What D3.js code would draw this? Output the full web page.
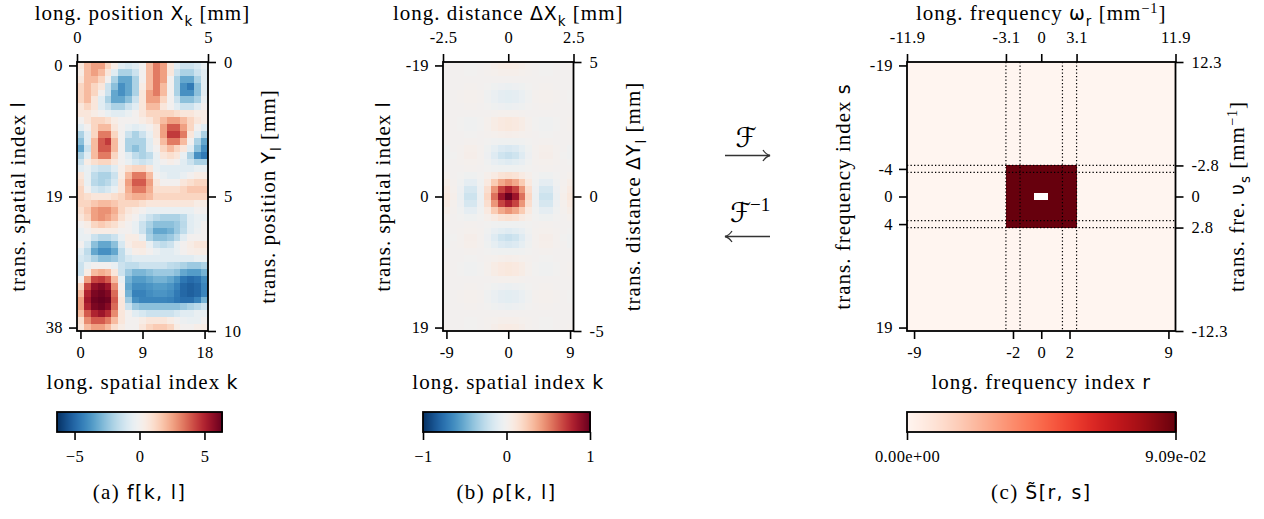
<!DOCTYPE html>
<html>
<head>
<meta charset="utf-8">
<script src="https://cdn.jsdelivr.net/npm/d3@7"></script>
<style>
  html, body { margin: 0; padding: 0; background: #fff; }
  svg { display: block; }
  text { font-family: "Liberation Serif", "DejaVu Serif", serif; }
</style>
</head>
<body>
<script>
// ---------- data ----------
// f[k, l] : rows l = 0..38, columns k = 0..18
const fValues = [
  [ 0.7, 2.0, 2.6, 2.6, 1.3, 0.4,-0.7,-1.0,-0.7, 0.0, 2.0, 3.3, 2.6, 0.7,-0.7,-1.3,-1.3,-1.0,-0.4],
  [ 0.4, 2.0, 2.6, 2.0, 0.7,-0.7,-2.0,-2.0,-1.3, 0.0, 2.0, 3.3, 2.6, 0.7,-1.3,-2.0,-2.0,-1.3,-0.7],
  [ 0.7, 2.0, 2.0, 1.3, 0.0,-2.0,-3.3,-3.3,-2.0, 0.0, 2.0, 3.3, 2.6, 0.0,-2.0,-3.3,-3.3,-2.0,-0.7],
  [ 1.3, 2.0, 1.3, 0.7,-1.3,-2.6,-3.9,-3.3,-2.0, 0.4, 2.0, 3.3, 2.0, 0.0,-2.0,-3.9,-4.5,-2.6,-0.7],
  [ 1.3, 2.0, 1.3, 0.0,-1.3,-3.3,-3.9,-3.3,-2.0, 0.7, 2.6, 3.3, 2.0, 0.0,-2.0,-3.9,-3.9,-2.6,-0.7],
  [ 1.3, 2.0, 0.7,-0.7,-2.0,-3.3,-3.3,-2.6,-1.3, 0.7, 2.6, 2.6, 1.3, 0.0,-1.3,-2.6,-2.6,-2.0,-0.4],
  [ 0.7, 1.3, 0.7,-0.7,-1.3,-2.0,-2.0,-1.3,-0.7, 0.7, 2.0, 2.0, 0.7, 0.0,-0.7,-1.3,-1.3,-0.7, 0.0],
  [ 0.7, 0.7, 0.4, 0.0,-0.4,-0.7,-0.7,-0.4, 0.0, 0.7, 1.3, 1.3, 1.3, 1.3, 1.0, 0.7, 0.7, 0.4, 0.4],
  [ 0.0, 0.7, 1.3, 1.3, 1.0, 0.4, 0.0, 0.0, 0.0, 0.4, 0.7, 1.3, 2.0, 2.6, 2.6, 2.0, 1.3, 0.7, 0.4],
  [-0.7, 0.0, 1.3, 2.0, 2.0, 0.7, 0.0,-0.4,-0.7,-0.4, 0.0, 0.7, 2.6, 3.9, 3.9, 2.6, 1.3, 0.0,-0.7],
  [-2.0,-0.7, 1.3, 3.3, 3.3, 1.3, 0.0,-1.3,-2.0,-1.3,-0.4, 0.7, 2.6, 4.5, 4.5, 3.3, 0.7,-0.7,-2.0],
  [-2.6,-0.7, 2.0, 3.9, 4.5, 2.0, 0.0,-2.0,-2.0,-2.0,-0.7, 0.4, 2.0, 3.3, 3.3, 2.0, 0.0,-2.0,-3.3],
  [-3.3,-1.3, 2.0, 3.9, 3.9, 2.0, 0.0,-2.0,-2.6,-2.0,-0.7, 0.0, 1.3, 2.0, 1.3, 0.7,-0.7,-2.6,-3.9],
  [-2.0,-0.7, 2.0, 3.3, 3.3, 1.3, 0.0,-0.7,-1.6,-2.0,-1.6,-0.4, 0.7, 1.0, 0.7,-0.4,-2.0,-3.9,-4.5],
  [-1.3, 0.4, 1.0, 1.3, 1.3, 0.7, 0.0,-0.4,-1.0,-1.3,-1.0,-0.4, 0.0, 0.3, 0.0,-0.7,-1.3,-2.0,-2.0],
  [-0.7,-0.4,-1.0,-1.3,-1.3,-0.7, 0.3, 1.0, 1.3, 1.3, 0.7,-0.4,-0.7,-0.7,-0.7,-0.7,-0.7,-0.4,-0.4],
  [ 0.7,-0.4,-1.6,-2.0,-2.0,-1.3, 0.4, 2.0, 3.3, 3.3, 2.0, 0.0,-0.4,-0.7,-0.7,-0.4, 0.0, 0.4, 0.4],
  [ 1.0,-0.4,-1.7,-2.0,-1.7,-1.0, 0.7, 2.6, 3.9, 3.9, 2.6, 0.7, 0.0, 0.0, 0.0, 0.7, 1.0, 1.3, 1.3],
  [ 1.3, 0.0,-1.0,-1.3,-1.0,-0.4, 0.7, 2.3, 3.3, 3.3, 2.3, 1.0, 1.0, 1.0, 1.0, 1.3, 1.7, 1.7, 1.7],
  [ 1.3, 1.0, 0.7, 0.7, 0.7, 1.0, 1.3, 2.0, 2.3, 2.3, 2.0, 1.3, 1.3, 1.3, 1.3, 1.3, 1.3, 1.3, 1.3],
  [ 1.3, 1.3, 1.7, 2.0, 2.0, 1.7, 1.3, 1.3, 1.3, 1.0, 0.7, 0.7, 0.7, 0.7, 0.7, 0.7, 0.7, 0.4, 0.4],
  [ 1.0, 1.6, 2.6, 2.9, 2.9, 2.3, 1.3, 0.7, 0.4, 0.0,-0.4,-0.4,-0.4,-0.4,-0.4,-0.4,-0.4, 0.0, 0.0],
  [ 0.7, 1.3, 2.6, 2.9, 2.6, 2.0, 1.0, 0.4, 0.0,-0.7,-1.3,-1.7,-2.0,-2.0,-2.0,-1.6,-0.7,-0.4,-0.4],
  [ 0.0, 0.4, 1.3, 1.6, 1.3, 1.0, 0.4, 0.0,-0.4,-1.3,-2.0,-2.6,-2.6,-2.6,-2.3,-1.7,-0.7,-0.4, 0.0],
  [-0.4, 0.0, 0.4, 0.4, 0.4, 0.4, 0.0, 0.0,-0.4,-1.3,-2.3,-3.3,-3.3,-3.0,-2.3,-1.6,-0.7,-0.3, 0.0],
  [-0.4,-0.4,-1.3,-1.7,-1.7,-1.3,-0.4, 0.4, 0.4,-0.4,-2.0,-2.6,-2.6,-2.3,-1.7,-0.7, 0.0, 0.0, 0.0],
  [ 0.0,-1.0,-2.6,-3.3,-3.3,-2.6,-1.0, 0.3, 0.7, 0.7,-0.4,-1.3,-1.6,-1.3,-0.4, 0.0, 0.4, 0.7, 0.7],
  [-0.7,-1.6,-3.3,-3.9,-3.9,-3.3,-1.6,-0.4, 0.3, 0.4, 0.0,-0.4,-0.7,-0.7,-0.4, 0.0, 0.3, 0.4, 0.4],
  [-1.0,-1.3,-2.0,-2.6,-2.6,-2.3,-1.6,-1.0,-0.7,-0.7,-0.7,-0.7,-0.7,-0.7,-0.7,-0.7,-0.7,-0.4,-0.4],
  [-1.3,-0.4, 0.0, 0.0, 0.0,-0.4,-1.3,-1.6,-1.6,-1.3,-1.3,-1.3,-1.3,-1.6,-1.7,-2.0,-2.3,-2.3,-2.0],
  [-1.3, 0.4, 2.0, 2.3, 2.0, 0.7,-1.3,-2.3,-2.9,-2.9,-2.6,-2.3,-2.3,-2.3,-2.6,-3.3,-3.6,-3.6,-3.0],
  [ 0.0, 2.6, 4.3, 4.5, 3.9, 2.0,-0.4,-3.0,-3.6,-3.6,-3.3,-3.0,-3.0,-3.3,-3.8,-4.6,-4.9,-4.7,-4.0],
  [ 1.3, 4.3, 5.6, 5.9, 5.4, 3.0, 0.0,-3.3,-4.0,-4.0,-3.8,-3.6,-3.6,-3.8,-4.3,-5.0,-5.2,-5.0,-4.2],
  [ 2.0, 5.0, 6.0, 6.2, 5.9, 3.6, 0.4,-3.0,-4.3,-4.3,-4.0,-3.8,-3.8,-4.0,-4.5,-5.0,-5.2,-5.0,-4.2],
  [ 2.6, 5.3, 6.2, 6.35,6.2, 3.9, 0.7,-2.3,-3.9,-4.2,-4.2,-4.2,-4.2,-4.3,-4.6,-4.8,-4.8,-4.3,-3.0],
  [ 2.6, 5.0, 6.0, 6.2, 5.8, 3.6, 0.7,-1.3,-2.3,-2.6,-2.6,-2.6,-2.6,-2.6,-2.6,-2.3,-2.0,-1.7,-1.3],
  [ 2.0, 3.9, 5.0, 5.4, 4.8, 3.0, 0.7, 0.0,-0.7,-1.0,-1.3,-1.3,-1.3,-1.3,-1.0,-0.7,-0.7,-0.4,-0.4],
  [ 1.0, 3.0, 3.9, 3.9, 3.3, 2.0, 0.7, 0.0, 0.0, 0.4, 0.7, 0.7, 0.7, 0.4, 0.0,-0.3,-0.4,-0.4, 0.0],
  [ 0.7, 2.0, 2.6, 2.6, 2.0, 1.0, 0.4, 0.0, 0.0, 0.7, 1.3, 1.6, 1.6, 1.3, 0.4, 0.0, 0.0, 0.3, 0.4]
];

// rho[k, l] in hundredths : rows l = -19..19, columns k = -9..9
const rhoValues = [
  [ 1,0,0,-1,-1,0,1,4,6,7,6,4,1,0,-1,-1,0,0,1],
  [ 0,0,0,-1,-1,0,1,2,3,3,3,2,1,0,-1,-1,0,0,0],
  [ 0,0,0,0,0,0,0,0,0,0,0,0,0,0,0,0,0,0,0],
  [ 0,0,0,1,1,0,-1,-3,-4,-5,-4,-3,-1,0,1,1,0,0,0],
  [-1,0,1,2,2,1,-2,-6,-9,-10,-9,-6,-2,1,2,2,1,0,-1],
  [-1,0,1,2,2,1,-2,-6,-9,-10,-9,-6,-2,1,2,2,1,0,-1],
  [ 0,0,0,1,1,0,-1,-3,-4,-5,-4,-3,-1,0,1,1,0,0,0],
  [ 0,0,0,0,0,0,0,1,2,2,2,1,0,0,0,0,0,0,0],
  [ 1,0,-1,-2,-2,-1,2,6,9,10,9,6,2,-1,-2,-2,-1,0,1],
  [ 1,0,-1,-2,-2,-1,2,6,9,10,9,6,2,-1,-2,-2,-1,0,1],
  [ 0,0,0,-1,-1,0,1,2,3,4,3,2,1,0,-1,-1,0,0,0],
  [ 0,0,0,1,1,0,-1,-2,-3,-3,-3,-2,-1,0,1,1,0,0,0],
  [-2,0,1,3,3,1,-3,-8,-13,-15,-13,-8,-3,1,3,3,1,0,-2],
  [-2,-1,1,4,4,1,-4,-12,-19,-22,-19,-12,-4,1,4,4,1,-1,-2],
  [-1,0,1,2,2,1,-2,-7,-10,-12,-10,-7,-2,1,2,2,1,0,-1],
  [ 0,0,0,1,1,0,-1,-2,-3,-3,-3,-2,-1,0,1,1,0,0,0],
  [ 2,0,-1,-3,-3,-1,3,8,13,15,13,8,3,-1,-3,-3,-1,0,2],
  [ 5,1,-2,-9,-9,-2,9,25,38,45,38,25,9,-2,-9,-9,-2,1,5],
  [ 8,2,-4,-16,-16,-4,16,44,68,80,68,44,16,-4,-16,-16,-4,2,8],
  [10,3,-5,-20,-20,-5,20,55,85,100,85,55,20,-5,-20,-20,-5,3,10],
  [ 8,2,-4,-16,-16,-4,16,44,68,80,68,44,16,-4,-16,-16,-4,2,8],
  [ 5,1,-2,-9,-9,-2,9,25,38,45,38,25,9,-2,-9,-9,-2,1,5],
  [ 2,0,-1,-3,-3,-1,3,8,13,15,13,8,3,-1,-3,-3,-1,0,2],
  [ 0,0,0,1,1,0,-1,-2,-3,-3,-3,-2,-1,0,1,1,0,0,0],
  [-1,0,1,2,2,1,-2,-7,-10,-12,-10,-7,-2,1,2,2,1,0,-1],
  [-2,-1,1,4,4,1,-4,-12,-19,-22,-19,-12,-4,1,4,4,1,-1,-2],
  [-2,0,1,3,3,1,-3,-8,-13,-15,-13,-8,-3,1,3,3,1,0,-2],
  [ 0,0,0,1,1,0,-1,-2,-3,-3,-3,-2,-1,0,1,1,0,0,0],
  [ 0,0,0,-1,-1,0,1,2,3,4,3,2,1,0,-1,-1,0,0,0],
  [ 1,0,-1,-2,-2,-1,2,6,9,10,9,6,2,-1,-2,-2,-1,0,1],
  [ 1,0,-1,-2,-2,-1,2,6,9,10,9,6,2,-1,-2,-2,-1,0,1],
  [ 0,0,0,0,0,0,0,1,2,2,2,1,0,0,0,0,0,0,0],
  [ 0,0,0,1,1,0,-1,-3,-4,-5,-4,-3,-1,0,1,1,0,0,0],
  [-1,0,1,2,2,1,-2,-6,-9,-10,-9,-6,-2,1,2,2,1,0,-1],
  [-1,0,1,2,2,1,-2,-6,-9,-10,-9,-6,-2,1,2,2,1,0,-1],
  [ 0,0,0,1,1,0,-1,-3,-4,-5,-4,-3,-1,0,1,1,0,0,0],
  [ 0,0,0,0,0,0,0,0,0,0,0,0,0,0,0,0,0,0,0],
  [ 0,0,0,-1,-1,0,1,2,3,3,3,2,1,0,-1,-1,0,0,0],
  [ 1,0,0,-1,-1,0,1,4,6,7,6,4,1,0,-1,-1,0,0,1]
];

// S~[r, s] : rows s = -19..19, columns r = -9..9 (null = masked cell)
const P = 9.09e-2;
const spectrumValues = [
  [0,0,0,0,0,0,0,0,0,0,0,0,0,0,0,0,0,0,0],
  [0,0,0,0,0,0,0,0,0,0,0,0,0,0,0,0,0,0,0],
  [0,0,0,0,0,0,0,0,0,0,0,0,0,0,0,0,0,0,0],
  [0,0,0,0,0,0,0,0,0,0,0,0,0,0,0,0,0,0,0],
  [0,0,0,0,0,0,0,0,0,0,0,0,0,0,0,0,0,0,0],
  [0,0,0,0,0,0,0,0,0,0,0,0,0,0,0,0,0,0,0],
  [0,0,0,0,0,0,0,0,0,0,0,0,0,0,0,0,0,0,0],
  [0,0,0,0,0,0,0,0,0,0,0,0,0,0,0,0,0,0,0],
  [0,0,0,0,0,0,0,0,0,0,0,0,0,0,0,0,0,0,0],
  [0,0,0,0,0,0,0,0,0,0,0,0,0,0,0,0,0,0,0],
  [0,0,0,0,0,0,0,0,0,0,0,0,0,0,0,0,0,0,0],
  [0,0,0,0,0,0,0,0,0,0,0,0,0,0,0,0,0,0,0],
  [0,0,0,0,0,0,0,0,0,0,0,0,0,0,0,0,0,0,0],
  [0,0,0,0,0,0,0,0,0,0,0,0,0,0,0,0,0,0,0],
  [0,0,0,0,0,0,0,0,0,0,0,0,0,0,0,0,0,0,0],
  [0,0,0,0,0,0,0,P,P,P,P,P,0,0,0,0,0,0,0],
  [0,0,0,0,0,0,0,P,P,P,P,P,0,0,0,0,0,0,0],
  [0,0,0,0,0,0,0,P,P,P,P,P,0,0,0,0,0,0,0],
  [0,0,0,0,0,0,0,P,P,P,P,P,0,0,0,0,0,0,0],
  [0,0,0,0,0,0,0,P,P,null,P,P,0,0,0,0,0,0,0],
  [0,0,0,0,0,0,0,P,P,P,P,P,0,0,0,0,0,0,0],
  [0,0,0,0,0,0,0,P,P,P,P,P,0,0,0,0,0,0,0],
  [0,0,0,0,0,0,0,P,P,P,P,P,0,0,0,0,0,0,0],
  [0,0,0,0,0,0,0,P,P,P,P,P,0,0,0,0,0,0,0],
  [0,0,0,0,0,0,0,0,0,0,0,0,0,0,0,0,0,0,0],
  [0,0,0,0,0,0,0,0,0,0,0,0,0,0,0,0,0,0,0],
  [0,0,0,0,0,0,0,0,0,0,0,0,0,0,0,0,0,0,0],
  [0,0,0,0,0,0,0,0,0,0,0,0,0,0,0,0,0,0,0],
  [0,0,0,0,0,0,0,0,0,0,0,0,0,0,0,0,0,0,0],
  [0,0,0,0,0,0,0,0,0,0,0,0,0,0,0,0,0,0,0],
  [0,0,0,0,0,0,0,0,0,0,0,0,0,0,0,0,0,0,0],
  [0,0,0,0,0,0,0,0,0,0,0,0,0,0,0,0,0,0,0],
  [0,0,0,0,0,0,0,0,0,0,0,0,0,0,0,0,0,0,0],
  [0,0,0,0,0,0,0,0,0,0,0,0,0,0,0,0,0,0,0],
  [0,0,0,0,0,0,0,0,0,0,0,0,0,0,0,0,0,0,0],
  [0,0,0,0,0,0,0,0,0,0,0,0,0,0,0,0,0,0,0],
  [0,0,0,0,0,0,0,0,0,0,0,0,0,0,0,0,0,0,0],
  [0,0,0,0,0,0,0,0,0,0,0,0,0,0,0,0,0,0,0],
  [0,0,0,0,0,0,0,0,0,0,0,0,0,0,0,0,0,0,0]
];

// index ranges
const kIndexA = d3.range(0, 19), lIndexA = d3.range(0, 39);
const kIndexB = d3.range(-9, 10), lIndexB = d3.range(-19, 20);
const rIndexC = d3.range(-9, 10), sIndexC = d3.range(-19, 20);

// tick values and labels
const ticksA = { bottom: [0, 9, 18], left: [0, 19, 38], top: [0, 5], right: [0, 5, 10] };
const ticksB = { bottom: [-9, 0, 9], left: [-19, 0, 19], top: [-2.5, 0, 2.5], right: [5, 0, -5] };
const ticksC = { bottom: [-9, -2, 0, 2, 9], left: [-19, -4, 0, 4, 19] };
const topTicksC = [-11.9, -3.13, 0, 3.13, 11.9];
const topLabelsC = ["-11.9", "-3.1", "0", "3.1", "11.9"];
const rightTicksC = [12.3, 2.84, 0, -2.84, -12.3];
const rightLabelsC = ["12.3", "-2.8", "0", "2.8", "-12.3"];
const dottedR = [-2.5, -1.5, 1.5, 2.5];
const dottedS = [-4.5, -3.5, 3.5, 4.5];

const cbarA = { domain: [-6.35, 6.35], ticks: [-5, 0, 5], labels: ["\u22125", "0", "5"] };
const cbarB = { domain: [-1, 1], ticks: [-1, 0, 1], labels: ["\u22121", "0", "1"] };
const cbarC = { domain: [0, 9.09e-2], ticks: [0, 9.09e-2], labels: ["0.00e+00", "9.09e-02"] };

// ---------- drawing ----------
const W = 1264, H = 519;
const SERIF = "'Liberation Serif', 'DejaVu Serif', serif";
const MATH = "'DejaVu Sans', sans-serif";
const LABEL = 21, TICK = 16.5;

const svg = d3.select("body").append("svg").attr("width", W).attr("height", H);

const Y0 = 62, Y1 = 331;

function rich(g, x, y, parts, opts = {}) {
  const size = opts.size || LABEL;
  const t = g.append("text")
    .attr("x", x).attr("y", y)
    .attr("text-anchor", opts.anchor || "middle")
    .style("font-family", SERIF)
    .style("font-size", size + "px")
    .style("letter-spacing", (opts.spacing === undefined ? 1 : opts.spacing) + "px")
    .attr("fill", "#000");
  if (opts.rotate) t.attr("transform", `rotate(${opts.rotate},${x},${y})`);
  let shift = 0;
  parts.forEach(p => {
    const s = t.append("tspan").text(p.t);
    let fs = size;
    if (p.m) { s.style("font-family", MATH); fs = size * 0.9; }
    const target = p.sub ? size * 0.28 : p.sup ? -size * 0.33 : 0;
    if (target !== shift) { s.attr("dy", target - shift); shift = target; }
    if (p.sub || p.sup) fs = size * (p.m ? 0.64 : 0.68);
    s.style("font-size", fs + "px");
  });
  return t;
}

function styleAxis(g) {
  g.attr("font-family", null).attr("font-size", null);
  g.select(".domain").remove();
  g.selectAll(".tick line").attr("stroke", "#000").attr("stroke-width", 1.6);
  g.selectAll(".tick text").style("font-family", SERIF).style("font-size", TICK + "px")
    .style("letter-spacing", "0.4px").attr("fill", "#000");
}

function heatPanel(cfg) {
  const g = svg.append("g");
  const xb = d3.scaleBand().domain(cfg.cols).range([cfg.x0, cfg.x1]).paddingInner(0).paddingOuter(0);
  const yb = d3.scaleBand().domain(cfg.rows).range([Y0, Y1]).paddingInner(0).paddingOuter(0);
  const cells = [];
  cfg.values.forEach((row, i) => row.forEach((v, j) => cells.push({ r: cfg.rows[i], c: cfg.cols[j], v })));
  g.append("g").selectAll("rect").data(cells).join("rect")
    .attr("x", d => xb(d.c)).attr("y", d => yb(d.r))
    .attr("width", xb.bandwidth() + 0.4).attr("height", yb.bandwidth() + 0.4)
    .attr("fill", d => d.v === null ? "#ffffff" : cfg.color(d.v))
    .attr("shape-rendering", "crispEdges");

  // index axes (cell centres)
  const xi = d3.scaleLinear().domain([cfg.cols[0] - 0.5, cfg.cols[cfg.cols.length - 1] + 0.5]).range([cfg.x0, cfg.x1]);
  const yi = d3.scaleLinear().domain([cfg.rows[0] - 0.5, cfg.rows[cfg.rows.length - 1] + 0.5]).range([Y0, Y1]);

  if (cfg.extra) cfg.extra(g, xi, yi);

  g.append("rect").attr("x", cfg.x0).attr("y", Y0).attr("width", cfg.x1 - cfg.x0).attr("height", Y1 - Y0)
    .attr("fill", "none").attr("stroke", "#000").attr("stroke-width", 1.8);

  const ab = g.append("g").attr("transform", `translate(0,${Y1})`)
    .call(d3.axisBottom(xi).tickValues(cfg.bottomTicks).tickFormat(String).tickSize(8).tickPadding(7));
  styleAxis(ab);
  const al = g.append("g").attr("transform", `translate(${cfg.x0},0)`)
    .call(d3.axisLeft(yi).tickValues(cfg.leftTicks).tickFormat(String).tickSize(8).tickPadding(6));
  styleAxis(al);
  const at = g.append("g").attr("transform", `translate(0,${Y0})`)
    .call(d3.axisTop(cfg.topScale).tickValues(cfg.topTicks).tickFormat((d, i) => cfg.topLabels[i]).tickSize(8).tickPadding(11));
  styleAxis(at);
  const ar = g.append("g").attr("transform", `translate(${cfg.x1},0)`)
    .call(d3.axisRight(cfg.rightScale).tickValues(cfg.rightTicks).tickFormat((d, i) => cfg.rightLabels[i]).tickSize(8).tickPadding(8));
  styleAxis(ar);

  const cx = (cfg.x0 + cfg.x1) / 2, cy = (Y0 + Y1) / 2;
  rich(g, cx, 20, cfg.topTitle);
  rich(g, cx, 389, cfg.bottomTitle);
  rich(g, cfg.leftTitleX, cy, cfg.leftTitle, { rotate: -90 });
  rich(g, cfg.rightTitleX, cy, cfg.rightTitle, { rotate: -90 });
  return g;
}

function colorbar(cfg) {
  const g = svg.append("g");
  const x = d3.scaleLinear().domain(cfg.spec.domain).range([cfg.x0, cfg.x1]);
  const y0 = 412, y1 = 432;
  const steps = d3.range(cfg.x0, cfg.x1, 1);
  g.selectAll("rect.cb").data(steps).join("rect").attr("class", "cb")
    .attr("x", d => d).attr("y", y0).attr("width", 1.5).attr("height", y1 - y0)
    .attr("fill", d => cfg.color(x.invert(d + 0.5)))
    .attr("shape-rendering", "crispEdges");
  g.append("rect").attr("x", cfg.x0).attr("y", y0).attr("width", cfg.x1 - cfg.x0).attr("height", y1 - y0)
    .attr("fill", "none").attr("stroke", "#000").attr("stroke-width", 1.8);
  const ax = g.append("g").attr("transform", `translate(0,${y1})`)
    .call(d3.axisBottom(x).tickValues(cfg.spec.ticks).tickFormat((d, i) => cfg.spec.labels[i]).tickSize(8).tickPadding(10));
  styleAxis(ax);
  rich(g, (cfg.x0 + cfg.x1) / 2, 499, cfg.caption, { spacing: 1.4 });
}

// colour maps
const rdbu = t => d3.interpolateRdBu(1 - t);
const colorA = d3.scaleSequential(rdbu).domain(cbarA.domain);
const colorB = d3.scaleSequential(rdbu).domain(cbarB.domain);
const colorC = d3.scaleSequential(d3.interpolateReds).domain(cbarC.domain);

// (a) field f[k, l]
heatPanel({
  x0: 77, x1: 208, cols: kIndexA, rows: lIndexA, values: fValues, color: colorA,
  bottomTicks: ticksA.bottom, leftTicks: ticksA.left,
  topScale: d3.scaleLinear().domain([0, 5]).range([77, 208]), topTicks: ticksA.top, topLabels: ticksA.top.map(String),
  rightScale: d3.scaleLinear().domain([0, 10]).range([Y0, Y1]), rightTicks: ticksA.right, rightLabels: ticksA.right.map(String),
  topTitle: [{ t: "long. position " }, { t: "X", m: 1 }, { t: "k", m: 1, sub: 1 }, { t: " [mm]" }],
  bottomTitle: [{ t: "long. spatial index " }, { t: "k", m: 1 }],
  leftTitle: [{ t: "trans. spatial index " }, { t: "l", m: 1 }], leftTitleX: 25,
  rightTitle: [{ t: "trans. position " }, { t: "Y", m: 1 }, { t: "l", m: 1, sub: 1 }, { t: " [mm]" }], rightTitleX: 275
});

// (b) correlation rho[k, l]
heatPanel({
  x0: 443, x1: 573.5, cols: kIndexB, rows: lIndexB, values: rhoValues.map(r => r.map(v => v / 100)), color: colorB,
  bottomTicks: ticksB.bottom, leftTicks: ticksB.left,
  topScale: d3.scaleLinear().domain([-2.5, 2.5]).range([443, 573.5]), topTicks: ticksB.top, topLabels: ["-2.5", "0", "2.5"],
  rightScale: d3.scaleLinear().domain([5, -5]).range([Y0, Y1]), rightTicks: ticksB.right, rightLabels: ["5", "0", "-5"],
  topTitle: [{ t: "long. distance " }, { t: "\u0394X", m: 1 }, { t: "k", m: 1, sub: 1 }, { t: " [mm]" }],
  bottomTitle: [{ t: "long. spatial index " }, { t: "k", m: 1 }],
  leftTitle: [{ t: "trans. spatial index " }, { t: "l", m: 1 }], leftTitleX: 390,
  rightTitle: [{ t: "trans. distance " }, { t: "\u0394Y", m: 1 }, { t: "l", m: 1, sub: 1 }, { t: " [mm]" }], rightTitleX: 640
});

// (c) spectrum S~[r, s]
heatPanel({
  x0: 907, x1: 1175.5, cols: rIndexC, rows: sIndexC, values: spectrumValues, color: colorC,
  bottomTicks: ticksC.bottom, leftTicks: ticksC.left,
  topScale: d3.scaleLinear().domain([-11.9, 11.9]).range([907, 1175.5]), topTicks: topTicksC, topLabels: topLabelsC,
  rightScale: d3.scaleLinear().domain([12.3, -12.3]).range([Y0, Y1]), rightTicks: rightTicksC, rightLabels: rightLabelsC,
  topTitle: [{ t: "long. frequency  " }, { t: "\u03c9", m: 1 }, { t: "r", m: 1, sub: 1 }, { t: " [mm" }, { t: "\u22121", sup: 1 }, { t: "]" }],
  bottomTitle: [{ t: "long. frequency index " }, { t: "r", m: 1 }],
  leftTitle: [{ t: "trans. frequency index " }, { t: "s", m: 1 }], leftTitleX: 850,
  rightTitle: [{ t: "trans. fre. " }, { t: "\u03c5", m: 1 }, { t: "s", m: 1, sub: 1 }, { t: " [mm" }, { t: "\u22121", sup: 1 }, { t: "]" }], rightTitleX: 1244,
  extra: (g, xi, yi) => {
    g.append("g").selectAll("line").data(dottedR).join("line")
      .attr("x1", d => xi(d)).attr("x2", d => xi(d)).attr("y1", Y0).attr("y2", Y1)
      .attr("stroke", "#000").attr("stroke-width", 1.2).attr("stroke-dasharray", "1.3,2.2");
    g.append("g").selectAll("line").data(dottedS).join("line")
      .attr("x1", 907).attr("x2", 1175.5).attr("y1", d => yi(d)).attr("y2", d => yi(d))
      .attr("stroke", "#000").attr("stroke-width", 1.2).attr("stroke-dasharray", "1.3,2.2");
  }
});

colorbar({ x0: 57, x1: 222, spec: cbarA, color: colorA, caption: [{ t: "(a) " }, { t: "f[k, l]", m: 1 }] });
colorbar({ x0: 423, x1: 590, spec: cbarB, color: colorB, caption: [{ t: "(b) " }, { t: "\u03c1[k, l]", m: 1 }] });
colorbar({ x0: 907, x1: 1175.5, spec: cbarC, color: colorC, caption: [{ t: "(c) " }, { t: "S\u0303[r, s]", m: 1 }] });

// transform arrows between (b) and (c)
const arr = svg.append("g").attr("stroke", "#333").attr("fill", "none").attr("stroke-width", 1.3);
rich(svg, 746, 147, [{ t: "\u2131", m: 1 }], { size: 30, spacing: 0 });
arr.append("path").attr("d", "M725,155.5 H770");
arr.append("path").attr("d", "M763,150 Q766,154.5 770,155.5 Q766,156.5 763,161");
rich(svg, 730, 222, [{ t: "\u2131", m: 1 }], { size: 30, anchor: "start", spacing: 0 });
rich(svg, 750, 211, [{ t: "\u22121" }], { size: 19, anchor: "start", spacing: 0 });
arr.append("path").attr("d", "M725,236.5 H770");
arr.append("path").attr("d", "M732,231 Q729,235.5 725,236.5 Q729,237.5 732,242");
</script>
</body>
</html>
